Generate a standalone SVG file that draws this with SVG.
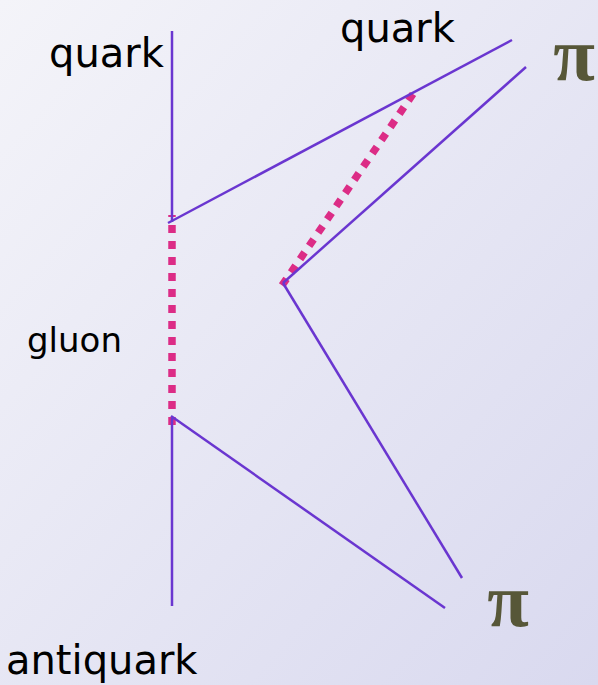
<svg xmlns="http://www.w3.org/2000/svg" width="598" height="685" viewBox="0 0 598 685">
  <defs>
    <linearGradient id="bg" x1="0" y1="0" x2="1" y2="1">
      <stop offset="0" stop-color="#f4f4f9"/>
      <stop offset="1" stop-color="#d9d9ef"/>
    </linearGradient>
    <style>
      .q { stroke: #6a36d0; stroke-width: 2.5; fill: none; stroke-linecap: butt; }
      .g { stroke: #dc2c86; stroke-width: 7.5; fill: none; stroke-dasharray: 8 8; stroke-linecap: butt; }
      .lbl { font-family: "DejaVu Sans", "Liberation Sans", sans-serif; font-size: 40px; fill: #000; }
      .gl { font-family: "DejaVu Sans", "Liberation Sans", sans-serif; font-size: 34px; fill: #000; }
      .pi { font-family: "Liberation Serif", "DejaVu Serif", serif; font-weight: bold; font-size: 76px; fill: #575738; text-anchor: middle; }
    </style>
  </defs>
  <rect x="0" y="0" width="598" height="685" fill="url(#bg)"/>

  <g id="connectors">
    <line id="gluon1" class="g" x1="172" y1="215" x2="172" y2="425" stroke-dashoffset="6"/>
    <line id="gluon2" class="g" x1="413" y1="94" x2="282" y2="285.5"/>
    <line class="q" x1="172" y1="31" x2="172" y2="222"/>
    <line class="q" x1="168" y1="223" x2="512" y2="40"/>
    <line class="q" x1="283" y1="283" x2="526" y2="67"/>
    <line class="q" x1="283" y1="283" x2="462" y2="578"/>
    <line class="q" x1="172" y1="418" x2="172" y2="606"/>
    <line class="q" x1="171" y1="416" x2="445" y2="608"/>
  </g>

  <g id="label-quark1"><text class="lbl" x="49" y="67">quark</text></g>
  <g id="label-quark2"><text class="lbl" x="340" y="42">quark</text></g>
  <g id="label-gluon"><text class="gl" x="27" y="352">gluon</text></g>
  <g id="label-antiquark"><text class="lbl" x="6" y="674">antiquark</text></g>
  <g id="pi-top"><text class="pi" x="574" y="80">π</text></g>
  <g id="pi-bottom"><text class="pi" x="508" y="626">π</text></g>
</svg>
